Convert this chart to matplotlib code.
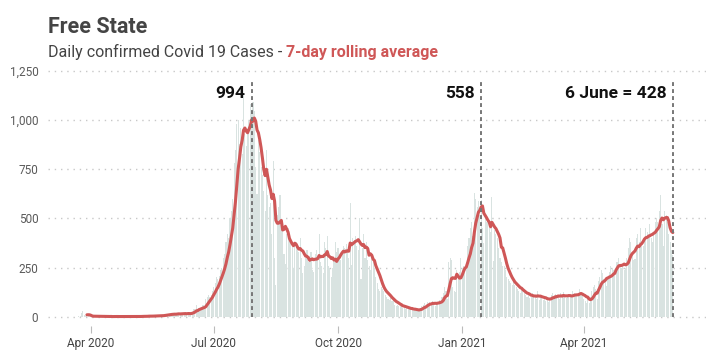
import matplotlib
matplotlib.use("Agg")
import matplotlib.pyplot as plt
import matplotlib.dates as mdates
import matplotlib.ticker as mticker
import numpy as np
import pandas as pd

# ---------------- data ----------------
start_date = "2020-03-23"
daily_cases = [
    2, 5, 20, 30, 8, 3, 2,
    4, 2, 3, 5, 1, 2, 3,
    1, 3, 2, 0, 4, 2, 1,
    0, 2, 1, 1, 0, 3, 1,
    1, 0, 2, 1, 0, 1, 2,
    0, 1, 1, 2, 0, 1, 0,
    2, 1, 3, 1, 2, 4, 1,
    2, 4, 3, 5, 2, 3, 4,
    4, 6, 5, 7, 3, 6, 5,
    8, 14, 15, 12, 10, 16, 9,
    12, 18, 14, 20, 15, 13, 13,
    14, 20, 18, 15, 22, 12, 11,
    25, 40, 38, 62, 30, 45, 32,
    45, 60, 55, 90, 100, 110, 100,
    110, 130, 150, 170, 200, 190, 205,
    240, 250, 300, 320, 380, 420, 400,
    500, 540, 600, 780, 850, 980, 1000,
    880, 960, 830, 1140, 930, 870, 940,
    1000, 1080, 1050, 1090, 1046, 760, 624,
    900, 840, 760, 720, 640, 540, 850,
    620, 560, 580, 420, 790, 300, 160,
    520, 560, 620, 480, 450, 320, 270,
    420, 450, 400, 380, 360, 250, 358,
    380, 350, 330, 400, 300, 220, 260,
    300, 340, 280, 310, 330, 240, 230,
    320, 340, 300, 420, 280, 260, 222,
    380, 350, 410, 260, 250, 200, 250,
    300, 380, 330, 350, 300, 290, 325,
    360, 350, 370, 340, 300, 580, 264,
    400, 390, 410, 360, 340, 500, 190,
    350, 420, 300, 380, 290, 260, 240,
    300, 280, 250, 200, 170, 140, 130,
    150, 140, 130, 110, 100, 90, 85,
    95, 80, 85, 60, 55, 60, 55,
    60, 55, 45, 50, 40, 45, 41,
    40, 35, 42, 30, 38, 34, 33,
    30, 45, 55, 60, 70, 50, 75,
    60, 75, 65, 80, 70, 55, 71,
    70, 85, 80, 100, 120, 150, 130,
    90, 280, 300, 290, 150, 130, 125,
    240, 210, 230, 300, 250, 260, 239,
    280, 360, 400, 450, 480, 410, 630,
    600, 560, 590, 520, 596, 450, 373,
    520, 480, 500, 450, 430, 610, 286,
    440, 420, 400, 350, 300, 280, 260,
    260, 240, 200, 190, 180, 170, 160,
    180, 160, 150, 140, 130, 120, 135,
    130, 120, 110, 100, 115, 95, 100,
    120, 100, 110, 90, 130, 85, 100,
    100, 85, 95, 80, 100, 75, 95,
    110, 120, 100, 115, 95, 105, 90,
    120, 110, 125, 100, 95, 105, 101,
    115, 100, 130, 120, 105, 110, 104,
    140, 120, 110, 90, 80, 70, 90,
    70, 100, 130, 150, 160, 140, 90,
    180, 200, 240, 220, 190, 180, 155,
    200, 230, 260, 250, 240, 210, 276,
    280, 300, 270, 250, 260, 240, 248,
    300, 350, 400, 380, 330, 290, 295,
    400, 420, 380, 450, 370, 360, 385,
    450, 430, 420, 470, 400, 380, 425,
    480, 500, 480, 540, 620, 470, 361,
    540, 520, 480, 420, 380, 340, 316,
]
peak_dates = ["2020-07-29", "2021-01-15", "2021-06-06"]
peak_labels = ["994", "558", "6 June = 428"]
y_ticks = [0, 250, 500, 750, 1000, 1250]
x_tick_dates = ["2020-04-01", "2020-07-01", "2020-10-01", "2021-01-01", "2021-04-01"]
title = "Free State"
subtitle_a = "Daily confirmed Covid 19 Cases - "
subtitle_b = "7-day rolling average"

# ---------------- styling ----------------
FONT = "Roboto"
BAR_C = "#d9e3e1"
LINE_C = "#cf5757"
GRID_C = "#c8c8c8"
TXT_C = "#5a5a5a"

dates = pd.date_range(start_date, periods=len(daily_cases), freq="D")
s = pd.Series(daily_cases, index=dates, dtype=float)
roll = s.rolling(7).mean()

fig = plt.figure(figsize=(7.21, 3.60), dpi=100)
ax = fig.add_axes([48 / 721, 1 - 326 / 360, (706 - 48) / 721, (326 - 68) / 360])

ax.bar(dates, s.values, width=0.8, color=BAR_C, linewidth=0, zorder=2)
ax.plot(roll.index, roll.values, color=LINE_C, lw=2.2, zorder=4, solid_capstyle="round")

for d, lab in zip(peak_dates, peak_labels):
    dt = pd.Timestamp(d)
    ax.plot([dt, dt], [0, 1200], color="#777777", lw=1.4, ls=(0, (2, 1.6)), zorder=5)
    ax.annotate(lab, xy=(mdates.date2num(dt), 1136), xytext=(-4.5, 0),
                textcoords="offset points", ha="right", va="center",
                fontsize=12.5, fontweight="bold", family=FONT, color="#111111")

x0 = mdates.date2num(pd.Timestamp("2020-04-01"))
ax.set_xlim(x0 - 31.85, x0 + 455.6)
ax.set_ylim(-47, 1265)

ax.set_yticks(y_ticks)
ax.yaxis.set_major_formatter(mticker.FuncFormatter(lambda v, p: f"{int(v):,}"))
ax.set_xticks([mdates.date2num(pd.Timestamp(d)) for d in x_tick_dates])
ax.xaxis.set_major_formatter(mdates.DateFormatter("%b %Y"))

ax.grid(axis="y", color=GRID_C, lw=1.0, ls=(0, (1, 3.5)), zorder=1)
ax.grid(axis="x", visible=False)
for sp in ax.spines.values():
    sp.set_visible(False)
ax.tick_params(axis="y", length=0, pad=7, labelsize=8.5, labelcolor=TXT_C)
ax.tick_params(axis="x", length=5, width=0.8, color="#bbbbbb", pad=3,
               labelsize=8.5, labelcolor="#444444")
for lbl in ax.get_xticklabels() + ax.get_yticklabels():
    lbl.set_family(FONT)

fig.text(48 / 721, 1 - 33 / 360, title, fontsize=15.5, fontweight="bold",
         family=FONT, color="#444444", ha="left", va="baseline")
t1 = fig.text(48 / 721, 1 - 57.5 / 360, subtitle_a, fontsize=11.5,
              family=FONT, color="#444444", ha="left", va="baseline")
fig.canvas.draw()
bb = t1.get_window_extent()
fig.text(bb.x1 / fig.bbox.width, 1 - 57.5 / 360, subtitle_b, fontsize=11.5,
         fontweight="bold", family=FONT, color=LINE_C, ha="left", va="baseline")

fig.savefig("out.png", dpi=100)
